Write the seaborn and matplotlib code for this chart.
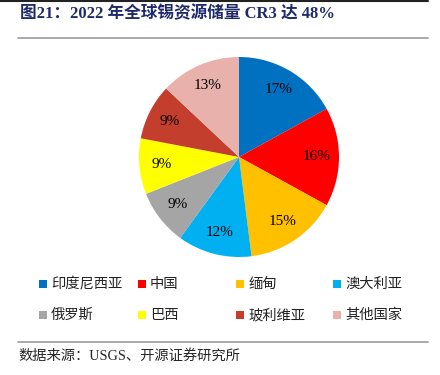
import matplotlib
matplotlib.use("Agg")
import matplotlib.pyplot as plt
from matplotlib.lines import Line2D
import seaborn as sns

# data
regions = ["印度尼西亚", "中国", "缅甸", "澳大利亚", "俄罗斯", "巴西", "玻利维亚", "其他国家"]
shares = [17, 16, 15, 12, 9, 9, 9, 13]
colors = ["#0070C0", "#FF0000", "#FFC000", "#00B0F0", "#A5A5A5", "#FFFF00", "#C43E2E", "#E8B1AB"]

title = "图21：2022 年全球锡资源储量 CR3 达 48%"
source = "数据来源：USGS、开源证券研究所"

sns.set_theme(style="white")
plt.rcParams["font.family"] = ["Liberation Serif", "Noto Sans CJK SC", "DejaVu Sans"]

fig = plt.figure(figsize=(4.4, 3.75), dpi=100)
ax = fig.add_axes([139 / 440, 1 - 257 / 375, 200 / 440, 200 / 375])

pal = sns.color_palette(colors)
wedges, _, autotexts = ax.pie(
    shares, colors=pal, startangle=90, counterclock=False,
    autopct="%d%%", pctdistance=0.78, radius=1,
    wedgeprops=dict(linewidth=0),
    textprops=dict(fontsize=11, color="black", family="Liberation Serif"),
)
ax.set_xlim(-1, 1)
ax.set_ylim(-1, 1)
ax.set_aspect("equal")

# title and frame lines
fig.text(20 / 440, 1 - 14 / 375, title, fontsize=12, fontweight="bold",
         color="#1F2A6B", va="center", ha="left",
         family=["Liberation Serif", "Noto Sans CJK SC"])
fig.add_artist(Line2D([0, 428 / 440], [1 - 1 / 375] * 2, color="#222222", lw=1.5))
fig.add_artist(Line2D([18 / 440, 428 / 440], [1 - 38 / 375] * 2, color="#999999", lw=1.2))
fig.add_artist(Line2D([18 / 440, 428 / 440], [1 - 342 / 375] * 2, color="#999999", lw=1.2))
fig.text(18 / 440, 1 - 356 / 375, source, fontsize=10.3, va="center", ha="left",
         family=["Liberation Serif", "Noto Sans CJK SC"])

# legend, 2 rows of 4, filled row by row
col_x = [43, 142, 240, 337]
row_y = [284, 315]
for i, (name, c) in enumerate(zip(regions, colors)):
    x = col_x[i % 4]
    y = row_y[i // 4]
    fig.add_artist(Line2D([x / 440], [1 - y / 375], marker="s", markersize=6,
                          markerfacecolor=c, markeredgewidth=0, linestyle=""))
    fig.text((x + 8) / 440, 1 - y / 375, name, fontsize=10.3, va="center",
             ha="left", family=["Noto Sans CJK SC"], color="#222222")

fig.savefig("out.png", dpi=100)
